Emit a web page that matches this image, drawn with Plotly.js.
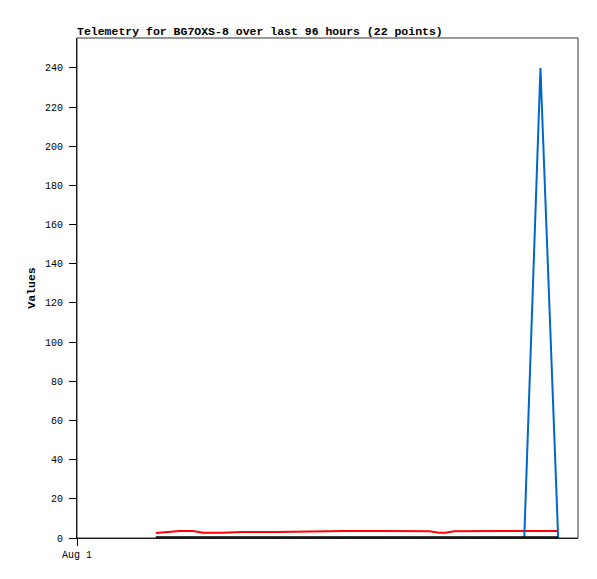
<!DOCTYPE html>
<html>
<head>
<meta charset="utf-8">
<script src="https://cdn.plot.ly/plotly-3.0.1.min.js"></script>
<style>html,body{margin:0;padding:0;background:#fff;}#chart{width:597px;height:579px;}</style>
</head>
<body>
<div id="chart"></div>
<script>
// hours since Aug 1 00:00
const hours = [15.1, 17.6, 19.7, 22.2, 24.1, 27.7, 31.6, 38.1, 44.6, 51.3, 57.9, 61.0, 64.0, 67.5, 69.4, 70.6, 72.3, 76.1, 80.9, 85.7, 88.8, 92.2];
const redValues = [2.6, 3.0, 3.6, 3.6, 2.7, 2.7, 3.0, 3.1, 3.5, 3.6, 3.6, 3.6, 3.6, 3.4, 2.7, 2.7, 3.4, 3.6, 3.6, 3.6, 3.6, 3.6];
const blueValues = [0, 0, 0, 0, 0, 0, 0, 0, 0, 0, 0, 0, 0, 0, 0, 0, 0, 0, 0, 0, 240, 0];
const blackValues = [0, 0, 0, 0, 0, 0, 0, 0, 0, 0, 0, 0, 0, 0, 0, 0, 0, 0, 0, 0, 0, 0];
const yTicks = [0, 20, 40, 60, 80, 100, 120, 140, 160, 180, 200, 220, 240];
const xTickVals = [0];
const xTickText = ['Aug 1'];
const titleText = 'Telemetry for BG7OXS-8 over last 96 hours (22 points)';
const yTitle = 'Values';

const mono = 'Liberation Mono, DejaVu Sans Mono, monospace';
const traces = [
  {x: hours, y: redValues, mode: 'lines', line: {color: '#ff0000', width: 2}, hoverinfo: 'none'},
  {x: hours, y: blueValues, mode: 'lines', line: {color: '#0066cc', width: 2}, hoverinfo: 'none'},
  {x: hours, y: blackValues, mode: 'lines', line: {color: '#000000', width: 3.5}, hoverinfo: 'none'}
];
const layout = {
  width: 597, height: 579,
  margin: {l: 77, r: 19, t: 38, b: 41},
  paper_bgcolor: '#fff', plot_bgcolor: '#fff',
  showlegend: false,
  title: {text: '<b>' + titleText + '</b>', x: 0, xanchor: 'left', xref: 'paper', y: 1 - 31/579, yanchor: 'middle', font: {family: mono, size: 11.5, color: '#000'}},
  xaxis: {
    range: [0, 96], tickvals: xTickVals, ticktext: xTickText,
    showgrid: false, zeroline: false, showline: true, linecolor: '#000', linewidth: 1,
    ticks: 'outside', ticklen: 7, tickcolor: '#000', tickwidth: 1,
    tickfont: {family: mono, size: 10, color: '#000'}, fixedrange: true
  },
  yaxis: {
    range: [0, 255.3], tickvals: yTicks,
    showgrid: false, zeroline: false, showline: true, linecolor: '#000', linewidth: 1,
    ticks: 'outside', ticklen: 7, tickcolor: '#000', tickwidth: 1, ticklabelstandoff: 4,
    tickfont: {family: mono, size: 10, color: '#000'},
    title: {text: '<b>' + yTitle + '</b>', font: {family: mono, size: 11.5, color: '#000'}, standoff: 6},
    fixedrange: true
  },
  shapes: [
    {type: 'rect', xref: 'paper', yref: 'paper', x0: 0, x1: 1, y0: 0, y1: 1, line: {color: '#333', width: 1}, fillcolor: 'rgba(0,0,0,0)', layer: 'above'}
  ]
};
Plotly.newPlot('chart', traces, layout, {staticPlot: true});
</script>
</body>
</html>
